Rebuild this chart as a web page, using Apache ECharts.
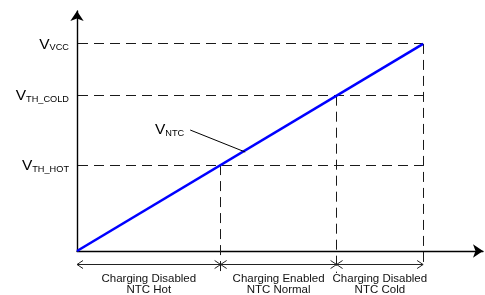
<!DOCTYPE html>
<html>
<head>
<meta charset="utf-8">
<script src="https://cdn.jsdelivr.net/npm/echarts@6/dist/echarts.min.js"></script>
<style>
html,body{margin:0;padding:0;background:#fff;}
#chart{width:485px;height:295px;}
</style>
</head>
<body>
<div id="chart"></div>
<script>
// ---- data (normalised voltage, V_VCC = 1) ----
const levelSubs = ['TH_HOT', 'TH_COLD', 'VCC'];
const levelValues = [0.415, 0.75, 1.0];
const curveX = [0, 1];
const curveY = [0, 1];
const curveSub = 'NTC';
const curveLabelAt = [0.486, 0.478];
const regionBounds = [0, 0.415, 0.75, 1.0];
const regionTop = ['Charging Disabled', 'Charging Enabled', 'Charging Disabled'];
const regionBottom = ['NTC Hot', 'NTC Normal', 'NTC Cold'];

const FONT = '"Liberation Sans", Arial, sans-serif';
const rich = {
  v: {fontSize: 15.5, fontFamily: FONT, color: '#000', verticalAlign: 'bottom', lineHeight: 17},
  s: {fontSize: 9.2, fontFamily: FONT, color: '#000', verticalAlign: 'bottom', lineHeight: 17}
};
const dash = {stroke: '#1a1a1a', lineWidth: 1, lineDash: [10, 6]};
const px = v => Math.round(v - 0.5) + 0.5;

const chart = echarts.init(document.getElementById('chart'), null, {renderer: 'canvas'});
chart.setOption({
  animation: false,
  backgroundColor: '#fff',
  grid: {left: 77, right: 2, top: 11, bottom: 44, containLabel: false},
  xAxis: {
    type: 'value', min: 0, max: 1.173,
    axisLine: {show: true, onZero: true, symbol: ['none', 'arrow'], symbolSize: [10, 10],
      lineStyle: {color: '#000', width: 1.4}},
    axisTick: {show: false}, axisLabel: {show: false}, splitLine: {show: false}
  },
  yAxis: {
    type: 'value', min: 0, max: 1.159,
    axisLine: {show: true, symbol: ['none', 'arrow'], symbolSize: [10, 10],
      lineStyle: {color: '#000', width: 1.4}},
    axisTick: {show: false}, splitLine: {show: false},
    axisLabel: {
      show: true, customValues: levelValues, margin: 8,
      formatter: function (v) {
        const i = levelValues.indexOf(v);
        return '{v|V}{s|' + levelSubs[i] + '}';
      },
      rich: rich
    }
  },
  series: [
    {
      type: 'custom', z: 1,
      data: levelValues.map(v => [v, v]),
      renderItem: function (params, api) {
        const v = api.value(0);
        const p0 = api.coord([0, v]);
        const p1 = api.coord([regionBounds[regionBounds.length - 1], v]);
        const pv = api.coord([v, v]);
        const base = api.coord([v, 0]);
        const ext = params.dataIndex === levelValues.length - 1 ? 12 : 22;
        const yy = px(p0[1]), xx = px(pv[0]);
        return {type: 'group', children: [
          {type: 'line', shape: {x1: p0[0] + 1, y1: yy, x2: p1[0], y2: yy}, style: dash},
          {type: 'line', shape: {x1: xx, y1: pv[1], x2: xx, y2: base[1] + ext}, style: dash}
        ]};
      }
    },
    {
      type: 'custom', z: 2,
      data: regionTop.map((t, i) => [regionBounds[i], regionBounds[i + 1]]),
      renderItem: function (params, api) {
        const a = api.coord([api.value(0), 0]);
        const b = api.coord([api.value(1), 0]);
        const y = px(a[1] + 13);
        const s = {stroke: '#222', lineWidth: 1};
        const cx = (a[0] + b[0]) / 2;
        return {type: 'group', children: [
          {type: 'line', shape: {x1: a[0], y1: y, x2: b[0], y2: y}, style: s},
          {type: 'polyline', shape: {points: [[a[0] + 6, y - 4], [a[0], y], [a[0] + 6, y + 4]]}, style: Object.assign({fill: null}, s)},
          {type: 'polyline', shape: {points: [[b[0] - 6, y - 4], [b[0], y], [b[0] - 6, y + 4]]}, style: Object.assign({fill: null}, s)},
          {type: 'text', style: {text: regionTop[params.dataIndex], x: cx, y: y + 14, align: 'center', verticalAlign: 'middle',
            fontSize: 11.5, fontFamily: FONT, fill: '#111'}},
          {type: 'text', style: {text: regionBottom[params.dataIndex], x: cx, y: y + 25.5, align: 'center', verticalAlign: 'middle',
            fontSize: 11.5, fontFamily: FONT, fill: '#111'}}
        ]};
      }
    },
    {
      type: 'line', z: 3, symbol: 'none', clip: false,
      data: curveX.map((x, i) => [x, curveY[i]]),
      lineStyle: {color: '#0000ff', width: 2.6}
    },
    {
      type: 'custom', z: 4,
      data: [curveLabelAt],
      renderItem: function (params, api) {
        const p = api.coord([api.value(0), api.value(1)]);
        return {type: 'group', children: [
          {type: 'line', shape: {x1: p[0] - 55, y1: p[1] - 22, x2: p[0], y2: p[1]}, style: {stroke: '#000', lineWidth: 1}},
          {type: 'text', style: {text: '{v|V}{s|' + curveSub + '}', rich: rich, x: p[0] - 61, y: p[1] - 23,
            align: 'right', verticalAlign: 'middle'}}
        ]};
      }
    }
  ]
});
</script>
</body>
</html>
